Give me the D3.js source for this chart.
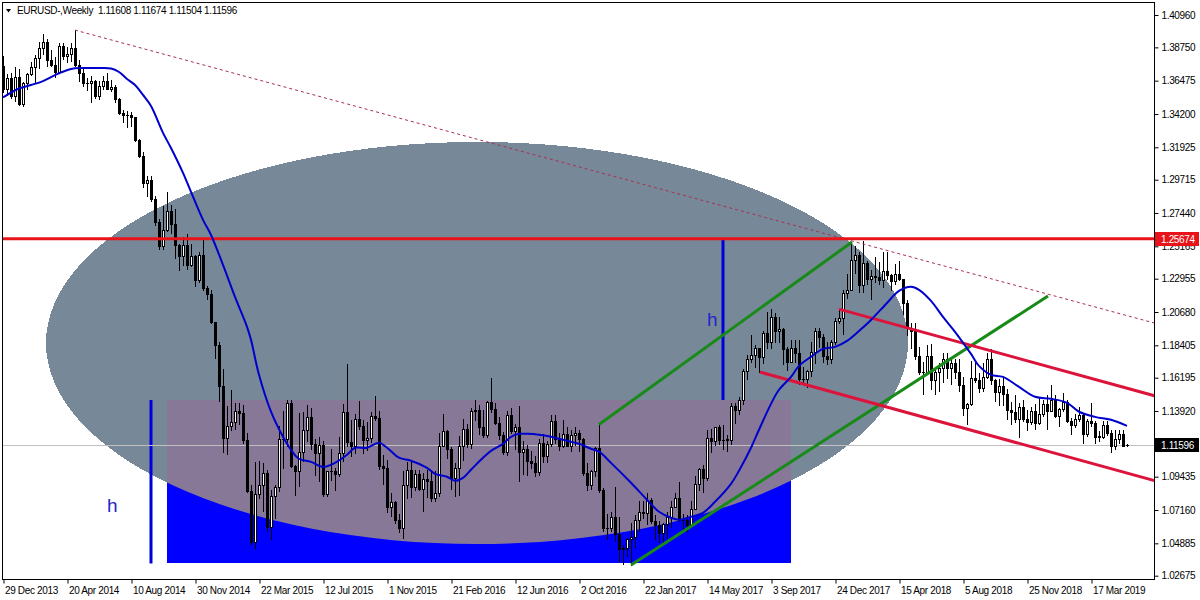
<!DOCTYPE html>
<html><head><meta charset="utf-8">
<script src="https://cdn.jsdelivr.net/npm/d3@7"></script>
<style>
html,body{margin:0;padding:0;background:#fff;}
svg{display:block;}
text{font-family:"Liberation Sans",Arial,sans-serif;font-size:10px;letter-spacing:-0.35px;white-space:pre;}
</style></head><body>
<svg id="chart" width="1200" height="600"></svg>
<script>
// ---------- DATA ----------
const symbolTitle = "EURUSD-,Weekly";
const tickBars = [0,16,32,48,64,80,96,112,128,144,160,176,192,208,224,240,256,272];
const tickLabels = ["29 Dec 2013","20 Apr 2014","10 Aug 2014","30 Nov 2014","22 Mar 2015","12 Jul 2015","1 Nov 2015","21 Feb 2016","12 Jun 2016","2 Oct 2016","22 Jan 2017","14 May 2017","3 Sep 2017","24 Dec 2017","15 Apr 2018","5 Aug 2018","25 Nov 2018","17 Mar 2019"];
const priceTicks = [1.40960,1.38750,1.36475,1.34200,1.31925,1.29715,1.27440,1.25165,1.22955,1.20680,1.18405,1.16195,1.13920,1.09435,1.07160,1.04885,1.02675];

const opens = [
1.3745,1.3590,1.3668,1.3540,1.3676,1.3485,1.3633,1.3693,1.3740,1.3804,
1.3873,1.3910,1.3792,1.3752,1.3704,1.3887,1.3813,1.3830,1.3870,1.3757,
1.3697,1.3630,1.3635,1.3642,1.3541,1.3608,1.3645,1.3594,1.3604,1.3523,
1.3430,1.3415,1.3415,1.3400,1.3240,1.3131,1.2951,1.2966,1.2840,1.2685,
1.2520,1.2630,1.2760,1.2670,1.2525,1.2450,1.2525,1.2390,1.2450,1.2285,
1.2460,1.2230,1.2190,1.2000,1.1840,1.1565,1.1205,1.1290,1.1315,1.1395,
1.1380,1.1195,1.0845,1.0495,1.0825,1.0890,1.0970,1.0600,1.0810,1.0870,
1.1200,1.1200,1.1450,1.1015,1.0985,1.1110,1.1265,1.1350,1.1165,1.1105,
1.1160,1.0825,1.0980,1.0985,1.0965,1.1105,1.1385,1.1180,1.1150,1.1340,
1.1290,1.1195,1.1210,1.1360,1.1345,1.1015,1.1005,1.0740,1.0770,1.0645,
1.0590,1.0885,1.0990,1.0870,1.0965,1.0860,1.0925,1.0915,1.0795,1.0830,
1.1155,1.1255,1.1130,1.0935,1.1005,1.1150,1.1270,1.1165,1.1390,1.1400,
1.1285,1.1225,1.1455,1.1405,1.1310,1.1225,1.1115,1.1365,1.1255,1.1280,
1.1115,1.1135,1.1050,1.1035,1.0975,1.1175,1.1085,1.1165,1.1325,1.1200,
1.1155,1.1235,1.1155,1.1225,1.1240,1.1200,1.0970,1.0885,1.0985,1.1140,
1.0850,1.0590,1.0590,1.0665,1.0555,1.0450,1.0455,1.0520,1.0530,1.0645,
1.0700,1.0695,1.0785,1.0640,1.0615,1.0560,1.0620,1.0670,1.0740,1.0800,
1.0650,1.0645,1.0615,1.0725,1.0895,1.0995,1.0935,1.1205,1.1185,1.1280,
1.1195,1.1200,1.1195,1.1425,1.1400,1.1470,1.1665,1.1750,1.1775,1.1820,
1.1760,1.1925,1.1860,1.2035,1.1940,1.1950,1.1815,1.1730,1.1820,1.1785,
1.1610,1.1610,1.1665,1.1795,1.1935,1.1895,1.1770,1.1745,1.1860,1.2005,
1.2030,1.2200,1.2220,1.2425,1.2460,1.2250,1.2405,1.2295,1.2315,1.2305,
1.2285,1.2350,1.2320,1.2280,1.2330,1.2290,1.2130,1.1960,1.1940,1.1770,
1.1655,1.1660,1.1770,1.1605,1.1655,1.1685,1.1745,1.1685,1.1720,1.1655,
1.1570,1.1410,1.1440,1.1620,1.1605,1.1550,1.1625,1.1750,1.1605,1.1525,
1.1560,1.1510,1.1400,1.1385,1.1335,1.1420,1.1340,1.1315,1.1395,1.1310,
1.1370,1.1440,1.1395,1.1470,1.1360,1.1405,1.1455,1.1325,1.1295,1.1335,
1.1365,1.1235,1.1325,1.1310,1.1220,1.1215,1.1295,1.1245,1.1150,1.1200,
1.1235,1.11608];

const highs = [
1.3815,1.3690,1.3703,1.3740,1.3730,1.3640,1.3700,1.3773,1.3825,1.3915,
1.3967,1.3935,1.3860,1.3810,1.3906,1.3905,1.3875,1.3905,1.3993,1.3790,
1.3733,1.3668,1.3677,1.3650,1.3645,1.3677,1.3701,1.3649,1.3618,1.3527,
1.3445,1.3443,1.3432,1.3400,1.3246,1.3160,1.2995,1.3000,1.2860,1.2705,
1.2790,1.2886,1.2800,1.2770,1.2535,1.2580,1.2600,1.2530,1.2455,1.2475,
1.2570,1.2245,1.2220,1.2000,1.1865,1.1680,1.1425,1.1535,1.1450,1.1450,
1.1430,1.1245,1.0885,1.1045,1.1050,1.1035,1.0990,1.0850,1.0890,1.1290,
1.1390,1.1465,1.1465,1.1020,1.1380,1.1385,1.1435,1.1410,1.1200,1.1215,
1.1190,1.0985,1.1130,1.1000,1.1215,1.1440,1.1715,1.1330,1.1370,1.1460,
1.1330,1.1320,1.1385,1.1495,1.1390,1.1095,1.1060,1.0830,1.0775,1.0690,
1.0985,1.1045,1.1060,1.0990,1.0990,1.0970,1.0990,1.0990,1.0985,1.1245,
1.1375,1.1260,1.1145,1.1040,1.1220,1.1340,1.1300,1.1410,1.1465,1.1435,
1.1400,1.1460,1.1615,1.1445,1.1350,1.1250,1.1395,1.1415,1.1300,1.1428,
1.1185,1.1160,1.1120,1.1085,1.1200,1.1235,1.1185,1.1365,1.1365,1.1240,
1.1330,1.1285,1.1260,1.1280,1.1265,1.1205,1.1040,1.0990,1.1145,1.1300,
1.0865,1.0690,1.0700,1.0875,1.0670,1.0475,1.0525,1.0630,1.0685,1.0775,
1.0775,1.0830,1.0800,1.0680,1.0640,1.0630,1.0700,1.0780,1.0830,1.0905,
1.0690,1.0680,1.0780,1.0950,1.1000,1.1025,1.1265,1.1270,1.1285,1.1295,
1.1295,1.1225,1.1445,1.1445,1.1490,1.1680,1.1775,1.1910,1.1845,1.1825,
1.1940,1.2070,1.2090,1.2060,1.2035,1.1960,1.1830,1.1880,1.1880,1.1880,
1.1690,1.1675,1.1860,1.1960,1.1960,1.1915,1.1860,1.1875,1.2025,1.2090,
1.2220,1.2325,1.2537,1.2520,1.2475,1.2556,1.2415,1.2355,1.2445,1.2410,
1.2475,1.2475,1.2330,1.2395,1.2415,1.2295,1.2150,1.1995,1.1995,1.1830,
1.1725,1.1840,1.1850,1.1675,1.1720,1.1790,1.1790,1.1745,1.1750,1.1745,
1.1625,1.1445,1.1735,1.1735,1.1650,1.1720,1.1790,1.1815,1.1610,1.1610,
1.1620,1.1545,1.1455,1.1500,1.1450,1.1470,1.1400,1.1420,1.1440,1.1485,
1.1470,1.1500,1.1570,1.1500,1.1415,1.1515,1.1465,1.1345,1.1370,1.1420,
1.1375,1.1340,1.1450,1.1325,1.1255,1.1325,1.1325,1.1265,1.1265,1.1265,
1.1265,1.11674];

const lows = [
1.3573,1.3550,1.3530,1.3510,1.3480,1.3477,1.3590,1.3685,1.3640,1.3735,
1.3830,1.3750,1.3750,1.3672,1.3700,1.3793,1.3772,1.3780,1.3750,1.3648,
1.3614,1.3586,1.3503,1.3530,1.3523,1.3590,1.3590,1.3580,1.3500,1.3419,
1.3366,1.3333,1.3340,1.3239,1.3129,1.2920,1.2860,1.2824,1.2665,1.2500,
1.2500,1.2623,1.2610,1.2440,1.2357,1.2390,1.2360,1.2380,1.2245,1.2270,
1.2220,1.2160,1.1995,1.1755,1.1460,1.1115,1.1098,1.1260,1.1270,1.1300,
1.1175,1.0840,1.0485,1.0458,1.0800,1.0710,1.0570,1.0520,1.0660,1.0845,
1.1000,1.1150,1.1010,1.0820,1.0880,1.1050,1.1190,1.1135,1.0955,1.0915,
1.0810,1.0810,1.0920,1.0850,1.0950,1.1050,1.1155,1.1085,1.1105,1.1270,
1.1105,1.1125,1.1180,1.1330,1.0995,1.0895,1.0705,1.0675,1.0630,1.0565,
1.0525,1.0800,1.0805,1.0850,1.0855,1.0710,1.0805,1.0780,1.0775,1.0810,
1.1150,1.1070,1.0860,1.0810,1.0820,1.1055,1.1145,1.1140,1.1330,1.1235,
1.1215,1.1215,1.1385,1.1300,1.1200,1.1100,1.1095,1.1245,1.1130,1.0912,
1.0965,1.0955,1.1000,1.0950,1.0955,1.1045,1.1045,1.1150,1.1175,1.1125,
1.1145,1.1150,1.1120,1.1160,1.1120,1.0955,1.0855,1.0860,1.0945,1.0840,
1.0570,1.0520,1.0570,1.0505,1.0365,1.0350,1.0400,1.0340,1.0455,1.0575,
1.0660,1.0620,1.0625,1.0520,1.0495,1.0495,1.0525,1.0600,1.0735,1.0640,
1.0570,1.0570,1.0600,1.0720,1.0850,1.0840,1.0920,1.1110,1.1160,1.1170,
1.1130,1.1120,1.1170,1.1310,1.1370,1.1440,1.1610,1.1725,1.1690,1.1660,
1.1720,1.1820,1.1825,1.1860,1.1860,1.1715,1.1670,1.1725,1.1730,1.1575,
1.1575,1.1555,1.1630,1.1720,1.1830,1.1730,1.1715,1.1720,1.1850,1.1995,
1.1915,1.2165,1.2215,1.2335,1.2205,1.2205,1.2260,1.2155,1.2270,1.2260,
1.2240,1.2290,1.2215,1.2260,1.2285,1.2055,1.1910,1.1820,1.1750,1.1645,
1.1510,1.1645,1.1540,1.1510,1.1530,1.1590,1.1615,1.1575,1.1615,1.1530,
1.1365,1.1300,1.1430,1.1590,1.1525,1.1530,1.1615,1.1575,1.1460,1.1430,
1.1430,1.1335,1.1300,1.1320,1.1215,1.1325,1.1265,1.1300,1.1270,1.1300,
1.1355,1.1270,1.1390,1.1350,1.1290,1.1390,1.1315,1.1235,1.1280,1.1325,
1.1175,1.1220,1.1290,1.1175,1.1185,1.1210,1.1225,1.1110,1.1135,1.1175,
1.1150,1.11504];

const closes = [
1.3590,1.3668,1.3540,1.3676,1.3485,1.3633,1.3693,1.3740,1.3804,1.3873,
1.3910,1.3792,1.3752,1.3704,1.3887,1.3813,1.3830,1.3870,1.3757,1.3697,
1.3630,1.3635,1.3642,1.3541,1.3608,1.3645,1.3594,1.3604,1.3523,1.3430,
1.3415,1.3415,1.3400,1.3240,1.3131,1.2951,1.2966,1.2840,1.2685,1.2520,
1.2630,1.2760,1.2670,1.2525,1.2450,1.2525,1.2390,1.2450,1.2285,1.2460,
1.2230,1.2190,1.2000,1.1840,1.1565,1.1205,1.1290,1.1315,1.1395,1.1380,
1.1195,1.0845,1.0495,1.0825,1.0890,1.0970,1.0600,1.0810,1.0870,1.1200,
1.1200,1.1450,1.1015,1.0985,1.1110,1.1265,1.1350,1.1165,1.1105,1.1160,
1.0825,1.0980,1.0985,1.0965,1.1105,1.1385,1.1180,1.1150,1.1340,1.1290,
1.1195,1.1210,1.1360,1.1345,1.1015,1.1005,1.0740,1.0770,1.0645,1.0590,
1.0885,1.0990,1.0870,1.0965,1.0860,1.0925,1.0915,1.0795,1.0830,1.1155,
1.1255,1.1130,1.0935,1.1005,1.1150,1.1270,1.1165,1.1390,1.1400,1.1285,
1.1225,1.1455,1.1405,1.1310,1.1225,1.1115,1.1365,1.1255,1.1280,1.1115,
1.1135,1.1050,1.1035,1.0975,1.1175,1.1085,1.1165,1.1325,1.1200,1.1155,
1.1235,1.1155,1.1225,1.1240,1.1200,1.0970,1.0885,1.0985,1.1140,1.0850,
1.0590,1.0590,1.0665,1.0555,1.0450,1.0455,1.0520,1.0530,1.0645,1.0700,
1.0695,1.0785,1.0640,1.0615,1.0560,1.0620,1.0670,1.0740,1.0800,1.0650,
1.0645,1.0615,1.0725,1.0895,1.0995,1.0935,1.1205,1.1185,1.1280,1.1195,
1.1195,1.1195,1.1425,1.1400,1.1470,1.1665,1.1750,1.1775,1.1820,1.1760,
1.1925,1.1860,1.2035,1.1940,1.1950,1.1815,1.1730,1.1820,1.1785,1.1610,
1.1610,1.1665,1.1795,1.1935,1.1895,1.1770,1.1745,1.1860,1.2005,1.2030,
1.2200,1.2220,1.2425,1.2460,1.2250,1.2405,1.2295,1.2315,1.2305,1.2285,
1.2350,1.2320,1.2280,1.2330,1.2290,1.2130,1.1960,1.1940,1.1770,1.1655,
1.1660,1.1770,1.1605,1.1655,1.1685,1.1745,1.1685,1.1720,1.1655,1.1570,
1.1410,1.1440,1.1620,1.1605,1.1550,1.1625,1.1750,1.1605,1.1525,1.1560,
1.1510,1.1400,1.1385,1.1335,1.1420,1.1340,1.1315,1.1395,1.1310,1.1370,
1.1440,1.1395,1.1470,1.1360,1.1405,1.1455,1.1325,1.1295,1.1335,1.1365,
1.1235,1.1325,1.1310,1.1215,1.1215,1.1295,1.1245,1.1150,1.1200,1.1235,
1.1155,1.11596];

// moving average (bar index, value)
const maBars = [0,4,7,10,13,17,20,24,27,29,31,33,35,37,40,42,45,47,50,52,55,58,61,62,64,67,70,72,74,77,80,83,86,88,91,94,96,99,102,106,108,111,113,115,117,120,122,125,127,129,131,134,137,139,142,144,147,149,152,157,161,164,167,169,172,175,178,182,184,187,189,192,194,197,199,202,205,208,211,214,217,221,224,227,229,232,235,238,242,244,247,250,254,258,262,266,269,273,277,281];
const maValues = [1.3533,1.3594,1.3618,1.3645,1.3686,1.3727,1.3734,1.3734,1.3731,1.3707,1.3659,1.3618,1.3550,1.3475,1.3291,1.3188,1.3018,1.2888,1.2697,1.2594,1.2390,1.2171,1.1967,1.1878,1.1639,1.1387,1.1216,1.1127,1.1066,1.1045,1.1011,1.1038,1.1093,1.1141,1.1141,1.1175,1.1141,1.1073,1.1052,1.1004,1.0963,1.0943,1.0916,1.0936,1.0991,1.1073,1.1120,1.1168,1.1216,1.1236,1.1236,1.1230,1.1216,1.1202,1.1182,1.1168,1.1134,1.1114,1.1038,1.0902,1.0786,1.0704,1.0663,1.0650,1.0670,1.0697,1.0772,1.0895,1.0984,1.1141,1.1264,1.1441,1.1537,1.1625,1.1700,1.1762,1.1816,1.1830,1.1871,1.1939,1.2014,1.2130,1.2212,1.2240,1.2219,1.2144,1.2035,1.1933,1.1782,1.1700,1.1639,1.1625,1.1557,1.1489,1.1475,1.1448,1.1387,1.1352,1.1332,1.1291];

// drawn objects (bar index, price)
const resistanceLevel = 1.25674;
const currentPrice = 1.11596;
const ellipseBars = [10.75, 226.25];
const ellipsePrices = [1.3229, 1.0484];
const boxBars = [41, 197];
const boxPrices = [1.1467, 1.0351];
const hLineBars = [37, 180];
const hLineFrom = [1.1467, 1.25674];
const hLineTo = [1.0351, 1.1467];
const hLabelBars = [26, 176];
const hLabelPrices = [1.0702, 1.1972];
const dashTrendBars = [18, 212.25];
const dashTrendPrices = [1.3993, 1.2553];
const greenUpperBars = [149, 212.25];
const greenUpperPrices = [1.1300, 1.2546];
const greenLowerBars = [157, 261.25];
const greenLowerPrices = [1.0340, 1.2177];
const channelUpperBars = [209, 287.25];
const channelUpperPrices = [1.2088, 1.1501];
const channelLowerBars = [189.25, 287.25];
const channelLowerPrices = [1.1658, 1.0921];

// ---------- DRAW ----------
const svg = d3.select('#chart');
const P = {left:2, right:1154, top:2, bottom:579};
const x = d3.scaleLinear().domain([0, 281]).range([3, 1127]);
const y = d3.scaleLinear().domain([1.02675, 1.40960]).range([575.7, 15]);
const rightBar = x.invert(P.right);

const defs = svg.append('defs');
defs.append('clipPath').attr('id','plotClip').append('rect')
  .attr('x',P.left+1).attr('y',P.top+1).attr('width',P.right-P.left-1).attr('height',P.bottom-P.top-1);

const ecx = (x(ellipseBars[0])+x(ellipseBars[1]))/2, ecy = (y(ellipsePrices[0])+y(ellipsePrices[1]))/2;
const erx = (x(ellipseBars[1])-x(ellipseBars[0]))/2, ery = (y(ellipsePrices[1])-y(ellipsePrices[0]))/2;
defs.append('clipPath').attr('id','ellClip').append('ellipse')
  .attr('cx',ecx).attr('cy',ecy).attr('rx',erx).attr('ry',ery);

const bg = svg.append('g').attr('clip-path','url(#plotClip)');
bg.append('ellipse').attr('cx',ecx).attr('cy',ecy).attr('rx',erx).attr('ry',ery)
  .attr('fill','#778899').attr('shape-rendering','crispEdges');
const bx = x(boxBars[0]), bw = x(boxBars[1]) - x(boxBars[0]);
const by = y(boxPrices[0]), bh = y(boxPrices[1]) - y(boxPrices[0]);
bg.append('rect').attr('x',bx).attr('y',by).attr('width',bw).attr('height',bh).attr('fill','#0000ff').attr('shape-rendering','crispEdges');
bg.append('g').attr('clip-path','url(#ellClip)').append('rect')
  .attr('x',bx).attr('y',by).attr('width',bw).attr('height',bh).attr('fill','#877898').attr('shape-rendering','crispEdges');

// h vertical lines
hLineBars.forEach((b,i)=>{
  bg.append('line').attr('x1',x(b)).attr('x2',x(b)).attr('y1',y(hLineFrom[i])).attr('y2',y(hLineTo[i]))
    .attr('stroke','#0000dd').attr('stroke-width',3);
});
hLabelBars.forEach((b,i)=>{
  bg.append('text').attr('x',x(b)).attr('y',y(hLabelPrices[i])).text('h')
    .attr('fill','#2424c8').style('font-size','19px').style('letter-spacing','0');
});

// current price line
bg.append('line').attr('x1',P.left).attr('x2',P.right).attr('y1',Math.round(y(currentPrice))+0.5).attr('y2',Math.round(y(currentPrice))+0.5)
  .attr('stroke','#c0c0c0').attr('stroke-width',1);

// candles
const candles = d3.range(closes.length).map(i=>({i,o:opens[i],h:highs[i],l:lows[i],c:closes[i]}));
const cg = svg.append('g').attr('clip-path','url(#plotClip)').attr('shape-rendering','crispEdges');
cg.selectAll('rect.wick').data(candles).join('rect').attr('class','wick')
  .attr('x',d=>Math.round(x(d.i))).attr('y',d=>Math.round(y(d.h)))
  .attr('width',1).attr('height',d=>Math.max(1,Math.round(y(d.l))-Math.round(y(d.h))+1)).attr('fill','#000');
cg.selectAll('rect.body').data(candles).join('rect').attr('class','body')
  .attr('x',d=>Math.round(x(d.i))-1).attr('y',d=>Math.round(y(Math.max(d.o,d.c))))
  .attr('width',3).attr('height',d=>Math.max(1,Math.round(y(Math.min(d.o,d.c)))-Math.round(y(Math.max(d.o,d.c)))+1)).attr('fill','#000');
cg.selectAll('rect.inner').data(candles.filter(d=>d.c>d.o && (Math.round(y(d.o))-Math.round(y(d.c)))>=2)).join('rect').attr('class','inner')
  .attr('x',d=>Math.round(x(d.i))).attr('y',d=>Math.round(y(d.c))+1)
  .attr('width',1).attr('height',d=>Math.round(y(d.o))-Math.round(y(d.c))-1).attr('fill','#fff');

// objects on top
const og = svg.append('g').attr('clip-path','url(#plotClip)');
function extLine(bars, prices, extend){
  const slope = (prices[1]-prices[0])/(bars[1]-bars[0]);
  const b1 = extend ? rightBar + 1 : bars[1];
  return [[x(bars[0]), y(prices[0])],[x(b1), y(prices[0]+slope*(b1-bars[0]))]];
}
const dl = extLine(dashTrendBars, dashTrendPrices, true);
og.append('line').attr('x1',dl[0][0]).attr('y1',dl[0][1]).attr('x2',dl[1][0]).attr('y2',dl[1][1])
  .attr('stroke','#a83050').attr('stroke-width',1).attr('stroke-dasharray','3,3');
og.append('line').attr('x1',P.left).attr('x2',P.right).attr('y1',y(resistanceLevel)).attr('y2',y(resistanceLevel))
  .attr('stroke','#e8141a').attr('stroke-width',3);
[[greenUpperBars,greenUpperPrices],[greenLowerBars,greenLowerPrices]].forEach(([b,p])=>{
  const l = extLine(b,p,false);
  og.append('line').attr('x1',l[0][0]).attr('y1',l[0][1]).attr('x2',l[1][0]).attr('y2',l[1][1])
    .attr('stroke','#178a17').attr('stroke-width',3);
});
[[channelUpperBars,channelUpperPrices],[channelLowerBars,channelLowerPrices]].forEach(([b,p])=>{
  const l = extLine(b,p,true);
  og.append('line').attr('x1',l[0][0]).attr('y1',l[0][1]).attr('x2',l[1][0]).attr('y2',l[1][1])
    .attr('stroke','#dc143c').attr('stroke-width',3);
});
// MA
const maLine = d3.line().x(d=>x(d[0])).y(d=>y(d[1])).curve(d3.curveCatmullRom.alpha(0.5));
og.append('path').datum(maBars.map((b,i)=>[b,maValues[i]])).attr('d',maLine)
  .attr('fill','none').attr('stroke','#0000cd').attr('stroke-width',2);

// frame
svg.append('rect').attr('x',P.left+0.5).attr('y',P.top+0.5).attr('width',P.right-P.left).attr('height',P.bottom-P.top)
  .attr('fill','none').attr('stroke','#000').attr('stroke-width',1);

// header
svg.append('path').attr('d','M6,9 L11,9 L8.5,12.5 Z').attr('fill','#000');
svg.append('text').attr('x',17).attr('y',14).attr('fill','#000')
  .text(symbolTitle + '  ' + [opens[281],highs[281],lows[281],closes[281]].map(d3.format('.5f')).join(' '));

// y axis
const yAxis = d3.axisRight(y).tickValues(priceTicks).tickFormat(d3.format('.5f')).tickSize(4).tickPadding(3);
const ya = svg.append('g').attr('transform',`translate(${P.right+0.5},0)`).call(yAxis);
ya.select('.domain').remove();
ya.selectAll('text').attr('fill','#000').style('font-family','"Liberation Sans",Arial,sans-serif').style('font-size','10px');
ya.selectAll('line').attr('stroke','#000');

// x axis
const xAxis = d3.axisBottom(x).tickValues(tickBars).tickFormat((d,i)=>tickLabels[i]).tickSize(4).tickPadding(3);
const xa = svg.append('g').attr('transform',`translate(0.5,${P.bottom+0.5})`).call(xAxis);
xa.select('.domain').remove();
xa.selectAll('text').attr('text-anchor','start').attr('dx','0').attr('x',1).attr('fill','#000')
  .style('font-family','"Liberation Sans",Arial,sans-serif').style('font-size','10px');
xa.selectAll('line').attr('stroke','#000');

// price labels on the axis
function priceTag(v, fill){
  const yy = Math.round(y(v));
  svg.append('rect').attr('x',P.right+1).attr('y',yy-7).attr('width',44).attr('height',14).attr('fill',fill);
  svg.append('text').attr('x',P.right+7).attr('y',yy+4).attr('fill','#fff').text(d3.format('.5f')(v));
}
priceTag(resistanceLevel,'#e8141a');
priceTag(currentPrice,'#000');
</script>
</body></html>
